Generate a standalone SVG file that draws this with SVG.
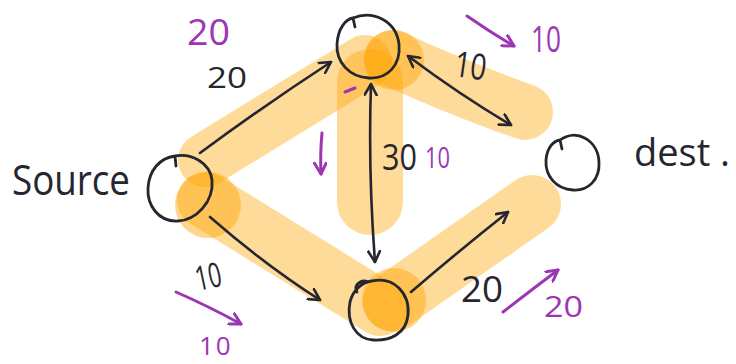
<svg xmlns="http://www.w3.org/2000/svg" width="736" height="364" viewBox="0 0 736 364">
<style>
.hl{fill:none;stroke:#ffa500;stroke-opacity:0.4;stroke-linecap:round;stroke-linejoin:round}
.dot{fill:#ffa500;fill-opacity:0.45}
.node{fill:none;stroke:#262630;stroke-width:2.8;stroke-linecap:round;stroke-linejoin:round}
.edge{fill:none;stroke:#262630;stroke-width:2.6;stroke-linecap:round}
.ink{font-family:"Open Sans","Liberation Sans",sans-serif;fill:#262630}
.pur{font-family:"Open Sans","Liberation Sans",sans-serif;fill:#9c36b5}
.pl{fill:none;stroke:#9c36b5;stroke-width:3;stroke-linecap:round;stroke-linejoin:round}
</style>
<defs>
<marker id="ah" viewBox="0 0 14 14" refX="12" refY="7" markerWidth="14" markerHeight="14" markerUnits="userSpaceOnUse" orient="auto-start-reverse">
<path d="M1,1 L12,7 L1,13" fill="none" stroke="#262630" stroke-width="2.6" stroke-linecap="round" stroke-linejoin="round"/>
</marker>
<marker id="ap" viewBox="0 0 14 14" refX="12" refY="7" markerWidth="14" markerHeight="14" markerUnits="userSpaceOnUse" orient="auto">
<path d="M1,1 L12,7 L1,13" fill="none" stroke="#9c36b5" stroke-width="3" stroke-linecap="round" stroke-linejoin="round"/>
</marker>
</defs>
<g id="highlights">
<path class="hl" stroke-width="54" d="M205,160 L365,62"/>
<path class="hl" stroke-width="56" d="M392,58 Q450,85 525,112"/>
<path class="hl" stroke-width="66" d="M370,82 L370,202"/>
<path class="hl" stroke-width="56" d="M205,200 L380,308"/>
<path class="hl" stroke-width="58" d="M392,302 L532,204"/>
<circle class="dot" cx="208" cy="205" r="33"/>
<circle class="dot" cx="394" cy="60" r="30" fill-opacity="0.35"/>
<circle class="dot" cx="394" cy="300" r="32"/>
</g>
<g id="connectors">
<path class="edge" d="M200,153 Q265,105 331,62" marker-end="url(#ah)"/>
<path class="edge" d="M408,56 Q460,95 511,125" marker-start="url(#ah)" marker-end="url(#ah)"/>
<path class="edge" d="M371,84 Q368,170 375,262" marker-start="url(#ah)" marker-end="url(#ah)"/>
<path class="edge" d="M210,217 Q265,265 320,300" marker-end="url(#ah)"/>
<path class="edge" d="M411,292 Q460,250 508,212" marker-end="url(#ah)"/>
</g>
<g id="node-source">
<path class="node" d="M176,166 L175,156 C192,153 210,163 212,180 C214,202 196,220 178,221 C158,222 147,205 148,188 C149,170 160,158 175,156"/>
<text class="ink" x="12" y="195" font-size="42" textLength="118" lengthAdjust="spacingAndGlyphs">Source</text>
</g>
<g id="node-top">
<path class="node" d="M355,27 L353,18 C372,10 396,20 399,44 C401,66 387,79 369,78 C349,77 336,62 337,44 C338,28 346,19 353,18"/>
</g>
<g id="node-bottom">
<path class="node" d="M357,292 C353,284 362,279 368,282 C395,274 410,295 408,315 C406,334 390,341 373,340 C356,339 346,322 350,302 C353,290 362,282 372,281"/>
</g>
<g id="node-dest">
<path class="node" d="M562,149 L560,140 C576,128 598,140 599,162 C600,180 588,191 573,190 C556,189 545,176 546,160 C547,148 553,141 560,140"/>
<text class="ink" x="634" y="166" font-size="38">dest .</text>
</g>
<g id="labels">
<text class="ink" x="207" y="88" font-size="29" textLength="40" lengthAdjust="spacingAndGlyphs">20</text>
<text class="ink" x="0" y="0" font-size="36" textLength="32" lengthAdjust="spacingAndGlyphs" transform="translate(453,76) rotate(8)">10</text>
<text class="ink" x="382" y="170" font-size="36" textLength="35" lengthAdjust="spacingAndGlyphs">30</text>
<text class="pur" x="425" y="168" font-size="30" textLength="25" lengthAdjust="spacingAndGlyphs">10</text>
<text class="ink" x="0" y="0" font-size="34" textLength="26" lengthAdjust="spacingAndGlyphs" transform="translate(198,291) rotate(-12)">10</text>
<text class="ink" x="461" y="302" font-size="36" textLength="42" lengthAdjust="spacingAndGlyphs">20</text>
<text class="pur" x="187" y="45" font-size="36" textLength="43" lengthAdjust="spacingAndGlyphs">20</text>
<text class="pur" x="531" y="52" font-size="36" textLength="30" lengthAdjust="spacingAndGlyphs">10</text>
<text class="pur" x="199" y="355" font-size="26" letter-spacing="2">10</text>
<text class="pur" x="544" y="317" font-size="30" textLength="39" lengthAdjust="spacingAndGlyphs">20</text>
<path class="pl" d="M467,16 Q490,32 514,46" marker-end="url(#ap)"/>
<path class="pl" d="M176,292 Q208,306 241,324" marker-end="url(#ap)"/>
<path class="pl" d="M503,312 Q530,291 558,270" marker-end="url(#ap)"/>
<path class="pl" d="M322,133 Q320,155 321,174" marker-end="url(#ap)"/>
<path class="pl" d="M345,92 L355,88"/>
</g>
</svg>
